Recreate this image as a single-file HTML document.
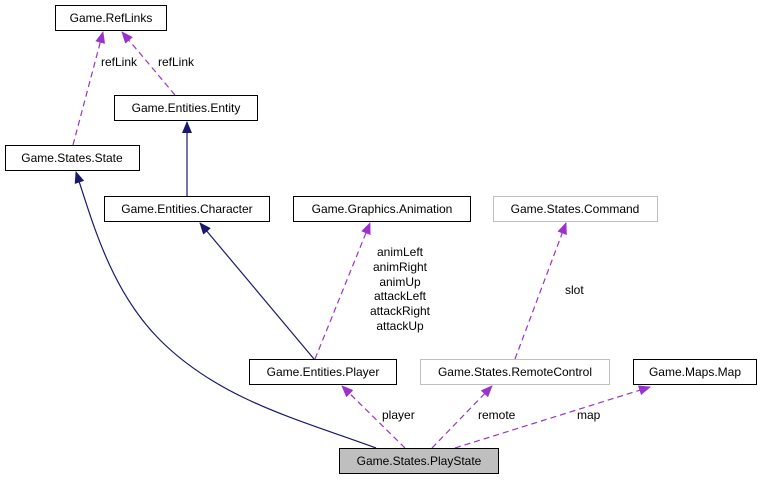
<!DOCTYPE html>
<html><head><style>body{margin:0;background:#fff}svg{display:block}text{font-family:"Liberation Sans",Arial,sans-serif;font-size:12px;fill:#000}</style></head><body>
<svg width="762" height="480" viewBox="0 0 762 480">
<defs>
<marker id="p" markerWidth="12" markerHeight="10" refX="11" refY="5" orient="auto" markerUnits="userSpaceOnUse"><path d="M0,0L12,5L0,10z" fill="#9a32cd"/></marker>
<marker id="n" markerWidth="12" markerHeight="10" refX="11" refY="5" orient="auto" markerUnits="userSpaceOnUse"><path d="M0,0L12,5L0,10z" fill="#191970"/></marker>
</defs>
<g fill="none" stroke-width="1.2">
<path d="M73,145L103,32" stroke="#9a32cd" stroke-dasharray="6,4" marker-end="url(#p)"/>
<path d="M175,95L122,32" stroke="#9a32cd" stroke-dasharray="6,4" marker-end="url(#p)"/>
<path d="M187,196L187,122" stroke="#191970" marker-end="url(#n)"/>
<path d="M376,448C300,420 220,400 160,340C110,290 92,220 76,172" stroke="#191970" marker-end="url(#n)"/>
<path d="M314,359L200,223" stroke="#191970" marker-end="url(#n)"/>
<path d="M315,359L370,223" stroke="#9a32cd" stroke-dasharray="6,4" marker-end="url(#p)"/>
<path d="M515,359L566,223" stroke="#9a32cd" stroke-dasharray="6,4" marker-end="url(#p)"/>
<path d="M405,448L342,386" stroke="#9a32cd" stroke-dasharray="6,4" marker-end="url(#p)"/>
<path d="M432,448L492,386" stroke="#9a32cd" stroke-dasharray="6,4" marker-end="url(#p)"/>
<path d="M455,448L650,387" stroke="#9a32cd" stroke-dasharray="6,4" marker-end="url(#p)"/>
</g>
<g stroke-width="1">
<rect x="55.5" y="5.5" width="111" height="25" fill="#fff" stroke="#000"/>
<rect x="114.5" y="95.5" width="143" height="25" fill="#fff" stroke="#000"/>
<rect x="5.5" y="145.5" width="134" height="25" fill="#fff" stroke="#000"/>
<rect x="104.5" y="196.5" width="165" height="25" fill="#fff" stroke="#000"/>
<rect x="293.5" y="196.5" width="177" height="25" fill="#fff" stroke="#000"/>
<rect x="493.5" y="196.5" width="164" height="25" fill="#fff" stroke="#bfbfbf"/>
<rect x="249.5" y="359.5" width="147" height="25" fill="#fff" stroke="#000"/>
<rect x="420.5" y="359.5" width="189" height="25" fill="#fff" stroke="#bfbfbf"/>
<rect x="633.5" y="359.5" width="123" height="25" fill="#fff" stroke="#000"/>
<rect x="339.5" y="448.5" width="159" height="25" fill="#bfbfbf" stroke="#000"/>
</g>
<g text-anchor="middle">
<text x="111" y="22">Game.RefLinks</text>
<text x="186" y="112">Game.Entities.Entity</text>
<text x="72" y="162">Game.States.State</text>
<text x="187" y="213">Game.Entities.Character</text>
<text x="382" y="213">Game.Graphics.Animation</text>
<text x="575" y="213">Game.States.Command</text>
<text x="323" y="376">Game.Entities.Player</text>
<text x="515" y="376">Game.States.RemoteControl</text>
<text x="695" y="376">Game.Maps.Map</text>
<text x="419" y="465">Game.States.PlayState</text>
<text x="400" y="256">animLeft</text>
<text x="400" y="271">animRight</text>
<text x="400" y="286">animUp</text>
<text x="400" y="300">attackLeft</text>
<text x="400" y="315">attackRight</text>
<text x="400" y="330">attackUp</text>
</g>
<text x="101" y="66">refLink</text>
<text x="158" y="66">refLink</text>
<text x="565" y="294">slot</text>
<text x="382" y="419">player</text>
<text x="478" y="419">remote</text>
<text x="577" y="419">map</text>
</svg>
</body></html>
